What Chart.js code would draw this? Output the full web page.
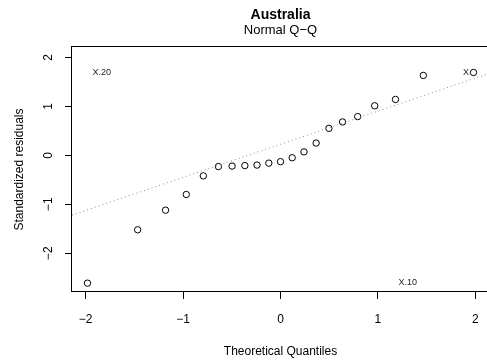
<!DOCTYPE html>
<html>
<head>
<meta charset="utf-8">
<title>Australia – Normal Q-Q</title>
<script src="https://cdn.jsdelivr.net/npm/chart.js@4.4.1/dist/chart.umd.min.js"></script>
<style>
  html, body { margin: 0; padding: 0; background: #fff; overflow: hidden; }
  #qq { display: block; }
</style>
</head>
<body>
<canvas id="qq" width="500" height="364"></canvas>
<script>
// theoretical normal quantiles (21 obs) and standardized residuals
const theoQuantiles = [-1.981, -1.466, -1.180, -0.967, -0.792, -0.637, -0.497, -0.366, -0.241, -0.120, 0,
  0.120, 0.241, 0.366, 0.497, 0.637, 0.792, 0.967, 1.180, 1.466, 1.981];
const stdResiduals = [-2.61, -1.52, -1.12, -0.80, -0.42, -0.23, -0.22, -0.21, -0.20, -0.16, -0.13,
  -0.05, 0.07, 0.25, 0.55, 0.68, 0.79, 1.01, 1.14, 1.63, 1.69];

// reference line through the quartiles
const refLineX = [-2.14, 2.14];
const refLineY = [-1.22, 1.67];

// point id labels
const idLabels = ["X.20", "X.10", "X"];
const idLabelX = [-1.93, 1.21, 1.873];
const idLabelY = [1.69, -2.59, 1.69];

const xTicks = [-2, -1, 0, 1, 2];
const yTicks = [-2, -1, 0, 1, 2];

const FONT = '"Liberation Sans", Arial, Helvetica, sans-serif';
const minus = (v) => String(v).replace("-", "\u2212");

// R-style frame, tick labels, titles
const rFramePlugin = {
  id: "r-frame",
  afterDraw(chart) {
    const { ctx, chartArea: a, scales } = chart;
    const midX = (a.left + a.right) / 2;
    const midY = (a.top + a.bottom) / 2;
    ctx.save();
    ctx.strokeStyle = "#000";
    ctx.lineWidth = 1;
    ctx.strokeRect(Math.round(a.left) - 0.5, Math.round(a.top) - 0.5,
      Math.round(a.right - a.left) + 1, Math.round(a.bottom - a.top));

    ctx.fillStyle = "#000";
    ctx.font = `12px ${FONT}`;
    ctx.textAlign = "center";
    ctx.textBaseline = "alphabetic";
    xTicks.forEach((t) => {
      ctx.fillText(minus(t), scales.x.getPixelForValue(t), 323);
    });
    yTicks.forEach((t) => {
      ctx.save();
      ctx.translate(52, scales.y.getPixelForValue(t));
      ctx.rotate(-Math.PI / 2);
      ctx.fillText(minus(t), 0, 0);
      ctx.restore();
    });

    ctx.fillText("Theoretical Quantiles", midX, 354.5);
    ctx.save();
    ctx.translate(22.5, midY);
    ctx.rotate(-Math.PI / 2);
    ctx.fillText("Standardized residuals", 0, 0);
    ctx.restore();

    ctx.font = `bold 14px ${FONT}`;
    ctx.fillText("Australia", midX, 19);
    ctx.font = `13px ${FONT}`;
    ctx.fillText("Normal Q\u2212Q", midX, 34);

    ctx.font = `9px ${FONT}`;
    ctx.fillStyle = "#222";
    ctx.textAlign = "left";
    ctx.textBaseline = "middle";
    idLabels.forEach((txt, i) => {
      ctx.fillText(txt, scales.x.getPixelForValue(idLabelX[i]), scales.y.getPixelForValue(idLabelY[i]));
    });
    ctx.restore();
  },
};

new Chart(document.getElementById("qq"), {
  type: "scatter",
  data: {
    datasets: [
      {
        type: "line",
        data: refLineX.map((x, i) => ({ x, y: refLineY[i] })),
        borderColor: "#8a8a8a",
        borderWidth: 1,
        borderDash: [1, 3],
        pointRadius: 0,
        fill: false,
      },
      {
        data: theoQuantiles.map((x, i) => ({ x, y: stdResiduals[i] })),
        pointStyle: "circle",
        pointRadius: 3.2,
        pointBorderWidth: 1,
        pointBorderColor: "#000",
        pointBackgroundColor: "rgba(0,0,0,0)",
      },
    ],
  },
  options: {
    responsive: false,
    animation: false,
    events: [],
    layout: { padding: { top: 47, right: 11, left: 0, bottom: 0 } },
    plugins: {
      legend: { display: false },
      tooltip: { enabled: false },
    },
    scales: {
      x: {
        type: "linear",
        min: -2.14,
        max: 2.14,
        afterBuildTicks: (scale) => { scale.ticks = xTicks.map((v) => ({ value: v })); },
        ticks: { display: false },
        grid: { drawOnChartArea: false, drawTicks: true, tickLength: 7, color: "#000" },
        border: { display: false },
        afterFit: (scale) => { scale.height = 72; },
      },
      y: {
        type: "linear",
        min: -2.79,
        max: 2.21,
        afterBuildTicks: (scale) => { scale.ticks = yTicks.map((v) => ({ value: v })); },
        ticks: { display: false },
        grid: { drawOnChartArea: false, drawTicks: true, tickLength: 7, color: "#000" },
        border: { display: false },
        afterFit: (scale) => { scale.width = 72; },
      },
    },
  },
  plugins: [rFramePlugin],
});
</script>
</body>
</html>
